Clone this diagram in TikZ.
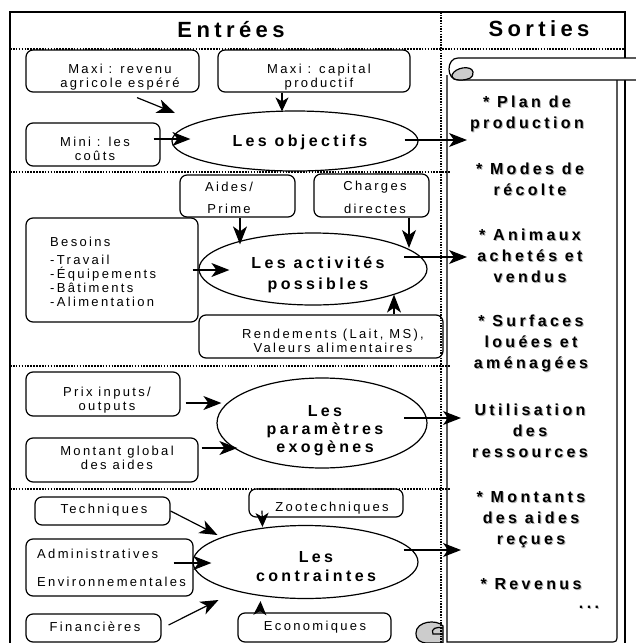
\documentclass[tikz,border=0pt]{standalone}
\usepackage{fontspec}
\setmainfont{Liberation Sans}
\newfontfamily\fsm{Liberation Sans}[LetterSpace=18]
\newfontfamily\fbg{Liberation Sans}[LetterSpace=21]
\newfontfamily\fti{Liberation Sans}[LetterSpace=20]
\usetikzlibrary{shapes.geometric,arrows.meta,calc}
\newcommand\shd[1]{\makebox[0pt][l]{\hspace{1pt}\raisebox{-1pt}{\textcolor{black!30}{#1}}}#1}
\begin{document}
\begin{tikzpicture}[x=1pt,y=-1pt,
 box/.style={draw, rounded corners=7pt, line width=1.2pt, inner sep=0pt},
 ell/.style={draw, ellipse, line width=1.2pt, inner sep=0pt},
 sm/.style={font=\fsm\fontsize{13}{14}\selectfont, align=center, inner sep=0pt},
 bg/.style={font=\fbg\bfseries\fontsize{16}{21}\selectfont, align=center, inner sep=0pt},
 ttl/.style={font=\fti\bfseries\fontsize{22}{24}\selectfont, inner sep=0pt},
 arr/.style={line width=1.2pt, -{Stealth[length=18pt,width=14pt,inset=5pt]}},
 arrs/.style={line width=1.2pt, -{Stealth[length=14pt,width=13pt,inset=4pt]}},
 hdots/.style={line width=1.6pt, dash pattern=on 1.6pt off 1.3pt},
 vdots/.style={line width=2.4pt, dash pattern=on 1.5pt off 1.2pt},
]
\useasboundingbox (0,0) rectangle (636,643);
% frame
\draw[line width=1.1pt] (10,643) -- (10,12) -- (625,12) -- (625,643);
% titles
\node[ttl] (tin) at (231,30) {Entrées};
\node[ttl] (tout) at (539,29) {Sorties};
% scroll
\draw[line width=1.2pt, fill=white] (447,75) -- (447,642) -- (609,642) .. controls (617,642) .. (617,634) -- (617,80);
\draw[line width=1.2pt, fill=white] (642,58) -- (458,58) .. controls (446,58) and (446,80) .. (458,80) -- (642,80);
\filldraw[line width=1.2pt, fill=gray!40] (452,75) .. controls (455,67) and (472,65) .. (473,72) .. controls (474,78) and (468,80) .. (460,80) .. controls (454,80) and (452,78) .. cycle;
\filldraw[line width=1.2pt, fill=gray!40] (443,626) .. controls (437,619) and (416,621) .. (416,633) .. controls (416,640) and (420,643) .. (428,643) -- (443,643) -- cycle;
\draw[line width=1.2pt] (443,634) -- (433,634) .. controls (430,629) and (437,626) .. (443,628);
% dotted separators
\draw[hdots] (10,49) -- (625,49);
\draw[hdots] (10,172) -- (450,172);
\draw[hdots] (10,366) -- (450,366);
\draw[hdots] (10,489) -- (450,489);
% section 1
\node[box, minimum width=173pt, minimum height=42pt] (m1) at (112.5,71) {};
\node[sm] at (120,77) {Maxi : revenu\\agricole espéré};
\node[box, minimum width=192pt, minimum height=42pt] (m2) at (314,71) {};
\node[sm] at (319,77) {Maxi : capital\\productif};
\node[box, minimum width=134pt, minimum height=43pt] (m3) at (93,144.5) {};
\node[sm] at (95,149) {Mini : les\\coûts};
\node[ell, minimum width=246pt, minimum height=60pt] (obj) at (295,141) {};
\node[bg] at (300,142) {Les objectifs};
% section 2
\node[box, minimum width=115pt, minimum height=42pt] (aides) at (237.5,196) {};
\node[sm] at (229,198) {Aides/\\[8pt]Prime};
\node[box, minimum width=115pt, minimum height=43pt] (charges) at (371.5,195.5) {};
\node[sm] at (375,197.5) {Charges\\[9pt]directes};
\node[box, minimum width=172pt, minimum height=104pt] (besoins) at (112,270) {};
\node[sm, align=left, anchor=west] at (50,272) {Besoins\\[4.5pt]-Travail\\-Équipements\\-Bâtiments\\-Alimentation};
\node[box, minimum width=244pt, minimum height=43pt] (rend) at (321,336.5) {};
\node[sm] at (333,340.5) {Rendements (Lait, MS),\\Valeurs alimentaires};
\node[ell, minimum width=228pt, minimum height=72pt] (act) at (313,269) {};
\node[bg] at (318,275) {Les activités\\possibles};
% section 3
\node[box, minimum width=154pt, minimum height=44pt] (prix) at (103,394) {};
\node[sm] at (107,400) {Prix inputs/\\outputs};
\node[box, minimum width=172pt, minimum height=44pt] (montant) at (112,460) {};
\node[sm] at (117,457.5) {Montant global\\des aides};
\node[ell, minimum width=210pt, minimum height=90pt] (par) at (322,423) {};
\node[bg, font=\fbg\bfseries\fontsize{16}{18}\selectfont] at (325,431) {Les\\paramètres\\exogènes};
% section 4
\node[box, minimum width=135pt, minimum height=28pt] (tech) at (102.5,511) {};
\node[sm] at (104,510) {Techniques};
\node[box, minimum width=167pt, minimum height=57pt] (admin) at (109.5,567.5) {};
\node[sm, align=left, anchor=west] at (37,568) {Administratives\\[14pt]Environnementales};
\node[box, minimum width=135pt, minimum height=28pt] (fin) at (93.5,628) {};
\node[sm] at (95,627) {Financières};
\node[box, minimum width=154pt, minimum height=28pt] (zoo) at (326,503) {};
\node[sm] at (332,508) {Zootechniques};
\node[box, minimum width=153pt, minimum height=29pt] (eco) at (314.5,627.5) {};
\node[sm] at (315,627) {Economiques};
\node[ell, minimum width=225pt, minimum height=73pt] (con) at (305.5,562) {};
\node[bg, font=\fbg\bfseries\fontsize{16}{19}\selectfont] at (316,567) {Les\\contraintes};
% vertical dotted separator
\draw[vdots] (441,12) -- (441,643);
% outputs text
\node[bg] (s1) at (527,114) {\shd{* Plan de}\\\shd{production}};
\node[bg] (s2) at (530,180) {\shd{* Modes de}\\\shd{récolte}};
\node[bg] (s3) at (530,256.5) {\shd{* Animaux}\\\shd{achetés et}\\\shd{vendus}};
\node[bg] (s4) at (531,343.5) {\shd{* Surfaces}\\\shd{louées et}\\\shd{aménagées}};
\node[bg] (s5) at (530,431.5) {\shd{Utilisation}\\\shd{des}\\\shd{ressources}};
\node[bg] (s6) at (531,520) {\shd{* Montants}\\\shd{des aides}\\\shd{reçues}};
\node[bg] (s7) at (531,585) {\shd{* Revenus}};
\node[bg] (s8) at (589,608) {\shd{...}};
% connectors
\coordinate (o1) at (467,140);
\coordinate (o2) at (467,257);
\coordinate (o3) at (461,418);
\coordinate (o4) at (461,550);
\draw[arr] ($(m1.south)+(24.5,5)$) -- ($(obj.center)+(-120,-28)$);
\draw[arrs] ($(m2.south)+(-32,0)$) -- ($(obj.north)+(-13,1)$);
\draw[arr] ($(m3.east)+(-7,-5.5)$) -- ($(obj.west)+(19,-2)$);
\draw[arr] ($(obj.east)+(-14,-1)$) -- (o1);
\draw[arr] ($(aides.south)+(2.5,0)$) -- ($(act.north)+(-73,12)$);
\draw[arr] ($(charges.south)+(37.5,0)$) -- ($(act.center)+(96,-21)$);
\draw[arr] ($(besoins.east)+(-6,0)$) -- ($(act.west)+(31,1)$);
\draw[arr] ($(rend.north)+(73,0)$) -- ($(act.south)+(81,-11)$);
\draw[arr] ($(act.center)+(91,-12)$) -- (o2);
\draw[arr] ($(prix.east)+(5,9)$) -- ($(par.west)+(5,-20)$);
\draw[arr] ($(montant.east)+(3,-12)$) -- ($(par.west)+(21,25)$);
\draw[arr] ($(par.center)+(82,-5)$) -- (o3);
\draw[arr] (tech.east) -- ($(con.center)+(-88,-27)$);
\draw[arr] ($(admin.east)+(-20,-4.5)$) -- ($(con.west)+(19,1)$);
\draw[arr] ($(fin.east)+(7,-3)$) -- ($(con.center)+(-87,38)$);
\draw[arrs] ($(zoo.south)+(-64,-7)$) -- ($(con.north)+(-43,2)$);
\draw[arrs] ($(eco.north)+(-54.5,0)$) -- ($(con.south)+(-45,2)$);
\draw[arr] ($(con.center)+(98,-12)$) -- (o4);
\end{tikzpicture}
\end{document}
